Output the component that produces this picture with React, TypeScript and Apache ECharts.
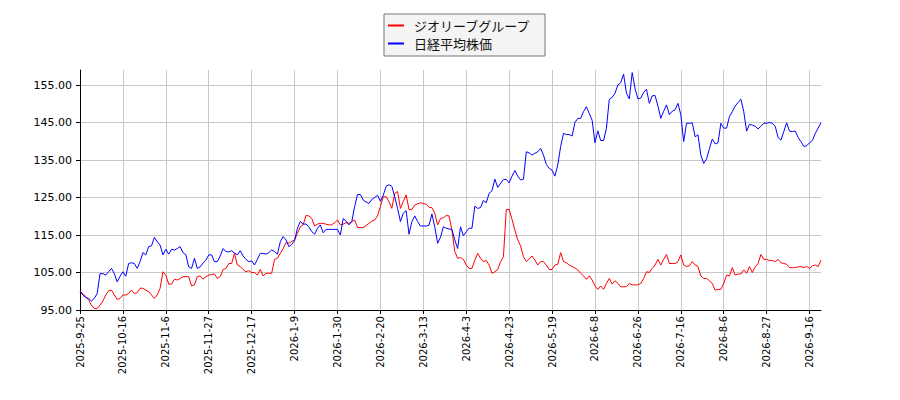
import { useEffect, useRef } from 'react'
import * as echarts from 'echarts'

// x tick labels, one per 15 trading days
const TICK_LABELS = [
  '2025-9-25', '2025-10-16', '2025-11-6', '2025-11-27', '2025-12-17', '2026-1-9',
  '2026-1-30', '2026-2-20', '2026-3-13', '2026-4-3', '2026-4-23', '2026-5-19',
  '2026-6-8', '2026-6-26', '2026-7-16', '2026-8-6', '2026-8-27', '2026-9-16',
]
const TICK_STEP = 15

const Y_TICKS = [95, 105, 115, 125, 135, 145, 155]

const SERIES_NAMES = ['ジオリーブグループ', '日経平均株価']

// relative price, first day = 100
const OLIVE = [
  100.0, 99.4, 98.6, 97.7, 96.3, 95.4, 95.4, 96.3, 97.4, 99.0,
  100.1, 100.3, 99.0, 97.8, 98.1, 99.0, 99.0, 99.4, 100.3, 99.4,
  99.6, 100.8, 100.8, 100.3, 99.9, 99.0, 98.1, 99.0, 100.8, 105.2,
  104.3, 101.9, 101.9, 103.2, 103.0, 103.4, 103.9, 103.9, 103.9, 101.4,
  101.7, 103.9, 104.1, 103.2, 103.9, 104.3, 104.5, 104.6, 103.4, 103.9,
  105.8, 106.1, 107.4, 107.4, 110.1, 107.0, 106.6, 105.8, 105.2, 105.5,
  105.0, 105.0, 104.3, 105.8, 104.1, 104.8, 104.8, 104.8, 108.5, 108.8,
  110.1, 111.4, 113.0, 112.8, 113.3, 113.7, 115.4, 117.2, 117.7, 120.2,
  120.1, 119.4, 117.4, 117.9, 118.1, 118.1, 117.9, 117.7, 117.7, 118.3,
  119.0, 117.7, 117.9, 118.3, 118.1, 118.6, 119.0, 117.0, 117.0, 117.0,
  117.5, 118.1, 118.7, 119.0, 120.1, 122.6, 125.2, 125.2, 123.9, 122.1,
  126.1, 126.6, 122.1, 123.9, 125.7, 121.8, 121.8, 123.0, 123.3, 123.6,
  123.4, 123.2, 122.4, 122.3, 120.8, 117.7, 119.4, 119.6, 120.2, 120.1,
  116.3, 110.6, 108.8, 109.0, 108.5, 107.0, 106.1, 106.1, 108.3, 110.1,
  108.8, 107.9, 108.2, 107.0, 104.8, 105.2, 105.8, 107.9, 109.2, 121.8,
  121.8, 119.2, 116.3, 113.7, 112.1, 109.2, 107.9, 108.6, 109.4, 108.3,
  107.0, 107.9, 107.9, 107.0, 105.8, 105.8, 107.0, 107.2, 110.3, 107.9,
  107.6, 107.0, 106.6, 106.2, 105.7, 104.8, 104.1, 103.2, 104.1, 103.0,
  101.4, 100.5, 101.4, 100.5, 102.1, 103.4, 101.9, 102.8, 102.1, 101.2,
  101.2, 101.2, 102.1, 101.7, 101.7, 101.7, 102.1, 103.4, 105.2, 105.0,
  106.1, 107.0, 108.5, 107.0, 108.5, 109.8, 107.4, 107.4, 107.4, 107.9,
  109.7, 107.0, 106.6, 106.8, 107.9, 107.0, 106.6, 104.1, 103.4, 103.4,
  102.8, 102.1, 100.3, 100.5, 100.5, 102.1, 104.3, 104.1, 106.3, 104.3,
  104.6, 104.6, 105.7, 104.8, 106.6, 105.0, 106.5, 107.4, 109.8, 108.5,
  108.5, 108.2, 108.2, 107.9, 108.5, 107.6, 107.4, 107.2, 106.3, 106.3,
  106.3, 106.5, 106.6, 106.3, 106.6, 106.1, 106.8, 107.0, 106.6, 108.3,
]

const NIKKEI = [
  100.0, 99.0, 98.3, 98.1, 97.4, 98.1, 99.4, 104.7, 104.7, 104.3,
  105.2, 106.1, 104.7, 102.5, 104.0, 105.2, 104.0, 107.4, 107.6, 107.4,
  106.1, 107.9, 110.3, 109.7, 111.9, 112.1, 114.4, 113.2, 112.3, 109.7,
  111.2, 109.9, 111.2, 111.0, 111.4, 111.9, 110.3, 109.7, 106.5, 106.1,
  108.8, 106.1, 106.5, 107.5, 108.3, 109.7, 109.7, 107.9, 107.9, 109.4,
  111.4, 110.6, 110.5, 110.8, 110.2, 109.7, 110.8, 109.4, 108.5, 107.9,
  108.1, 107.0, 108.5, 110.1, 110.1, 109.9, 110.3, 111.0, 110.6, 109.9,
  113.2, 114.6, 113.7, 111.9, 112.5, 113.5, 116.8, 118.6, 117.9, 117.9,
  117.2, 115.9, 115.2, 116.8, 117.7, 115.6, 116.5, 116.5, 116.5, 116.5,
  116.5, 115.0, 119.4, 118.7, 117.7, 118.6, 122.6, 125.8, 125.8, 124.3,
  123.8, 123.4, 124.5, 125.0, 125.6, 124.0, 125.6, 128.0, 128.4, 128.0,
  125.2, 122.1, 118.6, 120.8, 121.5, 115.2, 118.6, 120.1, 118.6, 117.4,
  117.4, 117.4, 117.6, 120.6, 117.2, 112.8, 114.4, 117.2, 116.8, 116.6,
  116.5, 113.7, 111.4, 117.2, 114.8, 115.9, 116.8, 116.8, 122.7, 122.1,
  122.3, 124.2, 123.6, 126.1, 126.8, 129.9, 127.7, 128.8, 129.8, 129.8,
  128.9, 130.7, 132.2, 130.7, 129.7, 129.9, 137.2, 136.9, 136.3, 136.8,
  137.2, 138.1, 136.3, 133.8, 132.8, 132.3, 130.7, 133.7, 138.6, 142.1,
  141.8, 141.8, 141.4, 145.0, 146.1, 146.1, 147.9, 149.2, 147.4, 145.6,
  139.6, 142.8, 140.2, 140.2, 143.5, 151.2, 151.7, 152.8, 155.0, 155.6,
  157.9, 152.8, 151.3, 158.3, 154.1, 151.3, 151.5, 153.0, 153.9, 150.1,
  152.1, 152.2, 149.4, 146.1, 148.0, 149.7, 147.1, 148.0, 148.4, 150.1,
  147.1, 139.9, 144.8, 144.8, 144.9, 141.2, 141.7, 136.3, 134.1, 135.3,
  138.0, 140.6, 139.3, 139.6, 144.8, 143.5, 143.5, 146.6, 147.9, 149.4,
  150.3, 151.2, 147.9, 142.7, 144.5, 144.3, 144.0, 143.3, 144.0, 144.8,
  144.8, 145.0, 144.8, 144.0, 141.0, 140.3, 142.6, 144.9, 142.7, 142.6,
  142.7, 141.0, 139.9, 138.6, 138.8, 139.6, 140.2, 142.1, 143.5, 145.0,
]

const AXIS_FONT = 'DejaVu Sans'
const GRID_COLOR = '#c8c8c8'

export default function App() {
  const chartRef = useRef<HTMLDivElement | null>(null)

  useEffect(() => {
    document.body.style.margin = '0'
    if (!chartRef.current) return
    const chart = echarts.init(chartRef.current, undefined, { renderer: 'svg' })

    const categories = OLIVE.map((_, i) => String(i))

    chart.setOption({
      animation: false,
      backgroundColor: '#fff',
      grid: { left: 80, right: 79, top: 70, bottom: 90, containLabel: false },
      legend: {
        orient: 'vertical',
        left: 384,
        top: 14,
        padding: [5, 14, 6, 4],
        itemGap: 5,
        itemWidth: 16,
        itemHeight: 2,
        icon: 'rect',
        backgroundColor: '#f4f4f4',
        borderColor: '#777',
        borderWidth: 1,
        textStyle: {
          fontFamily: 'Noto Sans CJK JP',
          fontSize: 13,
          lineHeight: 13,
          color: '#111',
          padding: [0, 0, 0, 5],
        },
        data: SERIES_NAMES,
      },
      xAxis: {
        type: 'category',
        data: categories,
        boundaryGap: false,
        axisLine: { lineStyle: { color: '#000', width: 1 } },
        axisTick: { interval: TICK_STEP - 1, length: 4, lineStyle: { color: '#000' } },
        axisLabel: {
          interval: TICK_STEP - 1,
          rotate: 90,
          margin: 6,
          fontFamily: AXIS_FONT,
          fontSize: 10,
          color: '#000',
          formatter: (_: string, idx: number) =>
            idx % TICK_STEP === 0 ? TICK_LABELS[idx / TICK_STEP] ?? '' : '',
        },
        splitLine: {
          show: true,
          interval: TICK_STEP - 1,
          lineStyle: { color: GRID_COLOR, width: 1 },
        },
      },
      yAxis: {
        type: 'value',
        min: 95,
        max: 159,
        interval: 10,
        axisLine: { show: true, lineStyle: { color: '#000', width: 1 } },
        axisTick: { show: true, length: 4, customValues: Y_TICKS, lineStyle: { color: '#000' } },
        axisLabel: {
          margin: 8,
          fontFamily: AXIS_FONT,
          fontSize: 11,
          color: '#000',
          customValues: Y_TICKS,
          formatter: (v: number) => v.toFixed(2),
        },
        splitLine: { show: true, lineStyle: { color: GRID_COLOR, width: 1 } },
      },
      series: [
        {
          name: SERIES_NAMES[0],
          type: 'line',
          data: OLIVE,
          showSymbol: false,
          symbol: 'none',
          color: '#ff0000',
          lineStyle: { color: '#ff0000', width: 1 },
        },
        {
          name: SERIES_NAMES[1],
          type: 'line',
          data: NIKKEI,
          showSymbol: false,
          symbol: 'none',
          color: '#0000ff',
          lineStyle: { color: '#0000ff', width: 1 },
        },
      ],
    })

    return () => chart.dispose()
  }, [])

  return <div ref={chartRef} style={{ width: 900, height: 400 }} />
}
